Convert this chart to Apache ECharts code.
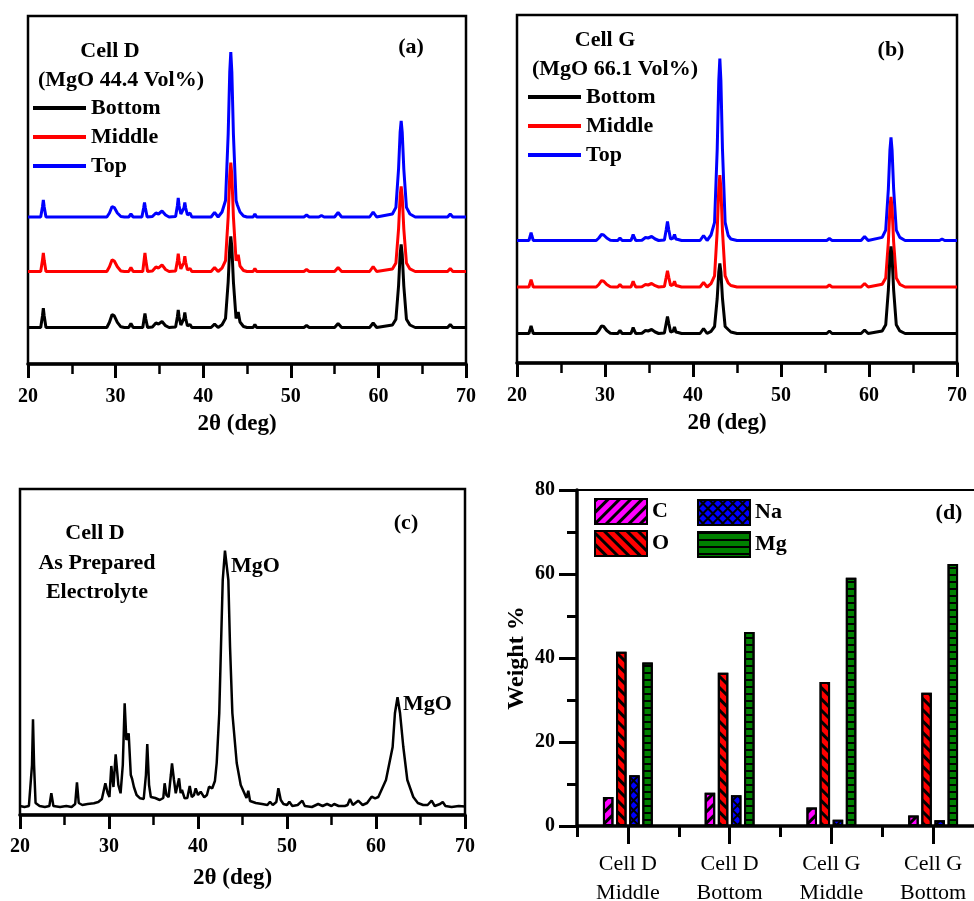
<!DOCTYPE html>
<html><head><meta charset="utf-8">
<script src="https://cdn.jsdelivr.net/npm/echarts@6/dist/echarts.min.js"></script>
<style>html,body{margin:0;padding:0;background:#fff}#c{width:974px;height:901px}</style>
</head><body><div id="c"></div>
<script>
// ---------- data (intensities in arbitrary units) ----------
const X_TICKS = [20, 30, 40, 50, 60, 70];
// Panel (a) Cell D
const A_TOP = [[20,147],[21.45,147],[21.65,157],[21.75,164],[21.85,157],[22.05,147],[25.9,147],[26.1,148.5],[26.3,147],[29.0,147],[29.3,151],[29.6,157.5],[29.85,156.5],[30.2,151],[30.6,147.5],[31.0,147],[31.5,147],[31.75,150],[32.0,147],[33.0,147],[33.2,156],[33.3,161.6],[33.4,156],[33.6,147],[34.2,147.5],[34.6,151],[34.9,150],[35.3,153],[35.7,149],[36.1,147],[36.85,147.5],[37.05,158],[37.15,166],[37.25,158],[37.45,150],[37.65,151],[37.8,156],[37.9,161.6],[38.0,156],[38.2,149],[38.5,151],[38.7,147],[40.9,147],[41.3,151.6],[41.7,147],[42.15,152],[42.55,163.5],[42.85,229.5],[43.03,292],[43.15,312],[43.27,292],[43.45,229.5],[43.75,163.5],[43.9,159],[44.0,161],[44.2,152],[44.6,148],[45.0,147],[45.7,147],[45.9,150],[46.1,147],[51.5,147],[51.8,149],[52.1,147],[53.2,147],[53.5,148.5],[53.8,147],[55.0,147],[55.4,151.5],[55.8,147],[59.0,147],[59.4,152],[59.8,147],[61.6,150],[62.0,156.6],[62.3,195],[62.48,231.5],[62.6,243],[62.72,231.5],[62.9,195],[63.2,156.6],[63.6,150],[64.2,147],[67.9,147],[68.2,150],[68.5,147],[70,147]];
const A_MID = [[20,92.5],[21.45,92.5],[21.65,103.7],[21.75,111.2],[21.85,103.7],[22.05,92.5],[25.9,92.5],[26.1,94],[26.3,92.5],[29.0,92.5],[29.3,97.2],[29.6,104.2],[29.85,103],[30.2,97.2],[30.6,93],[31.0,92.5],[31.5,92.5],[31.75,96.5],[32.0,92.5],[33.1,92.5],[33.25,103.7],[33.35,111.2],[33.45,103.7],[33.65,92.5],[34.2,93],[34.6,97],[34.9,96],[35.3,99.2],[35.7,94.5],[36.1,92.5],[36.85,93],[37.05,103],[37.15,110.2],[37.25,103],[37.45,95],[37.65,97],[37.8,101.7],[37.9,107.9],[38.0,101.7],[38.2,94],[38.5,95.5],[38.7,92.5],[40.9,92.5],[41.3,96.5],[41.7,92.5],[42.15,95.8],[42.55,103.4],[42.85,147],[43.03,188.4],[43.15,201.5],[43.27,188.4],[43.45,147],[43.75,103.4],[43.9,104],[44.0,109.2],[44.2,98],[44.6,93.5],[45.0,92.5],[45.7,92.5],[45.9,95.5],[46.1,92.5],[51.5,92.5],[51.8,94.5],[52.1,92.5],[55.0,92.5],[55.4,96.5],[55.8,92.5],[59.0,92.5],[59.4,97.5],[59.8,92.5],[61.6,95.1],[62.0,101],[62.3,135],[62.48,167.3],[62.6,177.5],[62.72,167.3],[62.9,135],[63.2,101],[63.6,95.1],[64.2,92.5],[67.9,92.5],[68.2,95.5],[68.5,92.5],[70,92.5]];
const A_BOT = [[20,36.5],[21.45,36.5],[21.65,48],[21.75,55.8],[21.85,48],[22.05,36.5],[25.9,36.5],[26.1,38],[26.3,36.5],[29.0,36.5],[29.3,41.7],[29.6,49.5],[29.85,48.2],[30.2,41.7],[30.6,37.2],[31.0,36.5],[31.5,36.5],[31.75,40.5],[32.0,36.5],[33.1,36.5],[33.25,45],[33.35,50.5],[33.45,45],[33.65,36.5],[34.2,37],[34.6,41],[34.9,40],[35.3,42.5],[35.7,38.3],[36.1,36.5],[36.85,37],[37.05,47],[37.15,54.1],[37.25,47],[37.45,39],[37.65,41],[37.8,45.5],[37.9,51.5],[38.0,45.5],[38.2,38],[38.5,39.5],[38.7,36.5],[40.9,36.5],[41.3,39.8],[41.7,36.5],[42.15,39.2],[42.55,45.6],[42.85,82],[43.03,116.5],[43.15,127.5],[43.27,116.5],[43.45,82],[43.75,45.6],[43.9,47],[44.0,52.1],[44.2,42],[44.6,37.5],[45.0,36.5],[45.7,36.5],[45.9,39.5],[46.1,36.5],[51.5,36.5],[51.8,38.5],[52.1,36.5],[55.0,36.5],[55.4,40.5],[55.8,36.5],[59.0,36.5],[59.4,41],[59.8,36.5],[61.6,39],[62.0,44.8],[62.3,78],[62.48,109.5],[62.6,119.5],[62.72,109.5],[62.9,78],[63.2,44.8],[63.6,39],[64.2,36.5],[67.9,36.5],[68.2,39.5],[68.5,36.5],[70,36.5]];
// Panel (b) Cell G
const B_TOP = [[20,122.5],[21.35,122.5],[21.5,127],[21.6,130.5],[21.7,127],[21.85,122.5],[26.8,122.5],[27.0,123.5],[27.2,122.5],[29.0,122.5],[29.3,125],[29.6,128.5],[29.85,128],[30.2,125],[30.6,122.8],[31.0,122.5],[31.45,122.5],[31.7,125],[31.95,122.5],[32.95,122.5],[33.1,126],[33.2,128.5],[33.3,126],[33.5,122.5],[34.2,122.8],[34.6,125.5],[34.9,125],[35.3,126.5],[35.7,124],[36.1,122.5],[36.75,123],[36.95,133],[37.1,141.5],[37.25,133],[37.45,124],[37.75,125],[37.9,128.5],[38.05,124],[38.3,123.5],[38.5,124.5],[38.7,122.5],[40.8,122.5],[41.2,127.5],[41.6,122.5],[42.05,128],[42.45,140.7],[42.75,213.5],[42.93,282.5],[43.05,304.5],[43.17,282.5],[43.35,213.5],[43.65,140.7],[44.0,127.5],[44.3,124],[45.0,122.5],[45.6,122.5],[45.8,124.5],[46.0,122.5],[55.2,122.5],[55.5,124.5],[55.8,122.5],[59.1,122.5],[59.5,126.5],[59.9,122.5],[61.5,125.6],[61.9,132.8],[62.2,174],[62.38,213.1],[62.5,225.5],[62.62,213.1],[62.8,174],[63.1,132.8],[63.5,125.6],[64.1,122.5],[68.0,122.5],[68.3,124],[68.6,122.5],[70,122.5]];
const B_MID = [[20,76],[21.35,76],[21.5,80.4],[21.6,83.3],[21.7,80.4],[21.85,76],[29.0,76],[29.3,78.5],[29.6,82.3],[29.85,81.8],[30.2,78.5],[30.6,76.3],[31.0,76],[31.45,76],[31.7,78.5],[31.95,76],[32.95,76],[33.1,79.4],[33.2,81.7],[33.3,79.4],[33.5,76],[34.2,76.3],[34.6,78.5],[34.9,78],[35.3,79.5],[35.7,77.3],[36.1,76],[36.75,76.5],[36.95,85.5],[37.1,92.3],[37.25,85.5],[37.45,77.5],[37.75,78.5],[37.9,81.7],[38.05,77.5],[38.3,77],[38.5,77.5],[38.7,76],[40.8,76],[41.2,80.6],[41.6,76],[42.05,79.4],[42.45,87.2],[42.75,132],[42.93,174.6],[43.05,188],[43.17,174.6],[43.35,132],[43.65,87.2],[44.0,80],[44.3,77.5],[45.0,76],[55.2,76],[55.5,78],[55.8,76],[59.1,76],[59.5,79.5],[59.9,76],[61.5,78.7],[61.9,85],[62.2,121],[62.38,155.2],[62.5,166],[62.62,155.2],[62.8,121],[63.1,85],[63.5,78.7],[64.1,76],[70,76]];
const B_BOT = [[20,29.5],[21.35,29.5],[21.5,34],[21.6,37.1],[21.7,34],[21.85,29.5],[29.0,29.5],[29.3,32.5],[29.6,37.1],[29.85,36.5],[30.2,32.5],[30.6,29.8],[31.0,29.5],[31.45,29.5],[31.7,32.5],[31.95,29.5],[32.95,29.5],[33.1,33],[33.2,35.5],[33.3,33],[33.5,29.5],[34.2,29.8],[34.6,32.5],[34.9,32],[35.3,33.5],[35.7,31],[36.1,29.5],[36.75,30],[36.95,39.5],[37.1,46.5],[37.25,39.5],[37.45,31],[37.75,32],[37.9,36.1],[38.05,31],[38.3,30.5],[38.5,31],[38.7,29.5],[40.8,29.5],[41.2,34.5],[41.6,29.5],[42.05,31.6],[42.45,36.5],[42.75,64.5],[42.93,91.1],[43.05,99.5],[43.17,91.1],[43.35,64.5],[43.65,36.5],[44.0,33.5],[44.3,31],[45.0,29.5],[55.2,29.5],[55.5,32],[55.8,29.5],[59.1,29.5],[59.5,33],[59.9,29.5],[61.5,32.1],[61.9,38.2],[62.2,73],[62.38,106.1],[62.5,116.5],[62.62,106.1],[62.8,73],[63.1,38.2],[63.5,32.1],[64.1,29.5],[70,29.5]];
// Panel (c) Cell D as prepared electrolyte
const C_PREP = [[20,9],[20.5,8],[21.0,9],[21.2,10],[21.35,50],[21.46,95.7],[21.58,50],[21.75,12],[22.2,9],[22.8,8],[23.3,9],[23.52,21.7],[23.75,9],[24.5,8],[25.2,9],[25.8,8],[26.2,11],[26.4,32.7],[26.6,12],[27.0,10],[27.6,11],[28.3,11.7],[28.8,13],[29.2,16],[29.59,31.7],[29.85,22],[30.05,18],[30.26,49],[30.5,28],[30.75,60.7],[31.05,30],[31.3,21.7],[31.55,50],[31.76,111.7],[31.95,75],[32.21,81.7],[32.45,40],[32.6,36],[32.8,28],[33.1,20],[33.5,16.7],[33.9,16],[34.15,40],[34.3,71],[34.5,30],[34.7,18],[35.2,17],[35.7,15],[36.1,17],[36.25,31.7],[36.45,20],[36.7,18],[36.95,40],[37.08,51.7],[37.3,35],[37.5,21.7],[37.87,36.7],[38.05,22],[38.2,25],[38.5,16.7],[38.8,17],[39.07,29],[39.3,18],[39.55,20],[39.74,26.7],[40.0,20],[40.3,23.3],[40.7,17.7],[41.0,20],[41.24,28.3],[41.6,26.7],[41.9,34],[42.1,52],[42.39,102],[42.58,168],[42.78,235],[43.03,264.3],[43.41,235],[43.6,168],[43.86,102],[44.35,52],[44.8,30],[45.2,22],[45.45,17],[45.65,24.3],[45.85,14],[46.5,12],[47.2,11],[47.8,10],[48.09,13.3],[48.4,10],[48.8,13],[49.03,26.7],[49.3,15],[49.6,11],[50.0,10],[50.26,13.3],[50.6,9],[51.2,10],[51.72,14.3],[52.0,9],[52.8,8],[53.5,11],[54.0,9],[54.5,11],[55.0,9],[55.3,11],[55.8,9],[56.5,9],[56.8,10],[57.08,16],[57.4,10],[58.0,14.3],[58.5,10],[59.0,12],[59.51,18.3],[59.9,16.7],[60.26,18],[61.12,35],[61.87,68],[62.13,102],[62.42,117.7],[62.70,102],[63.07,68],[63.52,35],[64.19,18],[64.7,12],[65.3,10],[65.8,10],[66.25,14.3],[66.6,9],[67.2,11],[67.5,13],[67.8,9],[68.5,8],[69.3,9],[70,8.5]];
// Panel (d) EDS weight %
const D_CATS = ['Cell D\nMiddle', 'Cell D\nBottom', 'Cell G\nMiddle', 'Cell G\nBottom'];
const D_C  = [6.9, 7.9, 4.4, 2.5];
const D_O  = [41.5, 36.5, 34.3, 31.7];
const D_NA = [12.1, 7.3, 1.5, 1.35];
const D_MG = [38.9, 46.2, 59.1, 62.4];
const D_Y_TICKS = [0, 20, 40, 60, 80];

// ---------- styling / layout ----------
const FONT = '"Liberation Serif", "Times New Roman", serif';
const BOLD = {fontFamily: FONT, fontWeight: 'bold', color: '#000'};

function xrdX(gi, nameGap, margin) {
  return {
    type: 'value', gridIndex: gi, min: X_TICKS[0], max: X_TICKS[X_TICKS.length - 1], interval: X_TICKS[1] - X_TICKS[0],
    name: '2θ (deg)', nameLocation: 'middle', nameGap: nameGap,
    nameTextStyle: Object.assign({fontSize: 23, padding: [0, 20, 0, 0]}, BOLD),
    axisLine: {show: true, onZero: false, lineStyle: {color: '#000', width: 3.5}},
    axisTick: {show: true, length: 14, lineStyle: {color: '#000', width: 3}},
    minorTick: {show: true, splitNumber: 2, length: 10, lineStyle: {color: '#000', width: 2.5}},
    splitLine: {show: false}, minorSplitLine: {show: false},
    axisLabel: Object.assign({fontSize: 20, margin: margin}, BOLD)
  };
}
function xrdY(gi, max) {
  return {type: 'value', gridIndex: gi, min: 0, max: max, show: false, splitLine: {show: false}};
}
function line(name, data, color, gi, w) {
  return {type: 'line', name: name, data: data, xAxisIndex: gi, yAxisIndex: gi, symbol: 'none',
    lineStyle: {color: color, width: w}, itemStyle: {color: color}, animation: false, z: 3};
}
function bar(name, data, color, decal) {
  return {type: 'bar', name: name, data: data, xAxisIndex: 3, yAxisIndex: 3, barWidth: 10.5, barGap: '25%',
    itemStyle: {color: color, borderColor: '#000', borderWidth: 2, decal: decal}, animation: false};
}
function txt(t, x, y, align) {
  return {type: 'text', x: x, y: y, z: 100, style: {text: t, fill: '#000', font: 'bold 22px ' + FONT,
    align: align || 'center', verticalAlign: 'middle'}};
}
const gridBox = {show: true, borderColor: '#000', borderWidth: 2.5, backgroundColor: 'transparent', outerBoundsMode: 'none', containLabel: false};
const lineLegend = (left, top) => ({
  data: ['Bottom', 'Middle', 'Top'], left: left, top: top, orient: 'vertical', padding: 0,
  icon: 'rect', itemWidth: 53, itemHeight: 4, itemGap: 7, selectedMode: false,
  textStyle: Object.assign({fontSize: 22, lineHeight: 22}, BOLD)
});
const barLegend = (names, left, top) => ({
  data: names, left: left, top: top, orient: 'vertical', padding: 0, icon: 'rect',
  itemWidth: 52, itemHeight: 25, itemGap: 5, selectedMode: false,
  itemStyle: {borderColor: '#000', borderWidth: 2},
  textStyle: Object.assign({fontSize: 22}, BOLD)
});

const stripes = (rot) => ({symbol: 'rect', color: '#000', dashArrayX: [1, 0], dashArrayY: [2.5, 4.5], rotation: rot, symbolSize: 1});

const option = {
  backgroundColor: '#fff',
  animation: false,
  grid: [
    Object.assign({left: 28, top: 16, width: 438, height: 348}, gridBox),
    Object.assign({left: 517, top: 15, width: 440, height: 348}, gridBox),
    Object.assign({left: 20, top: 489, width: 445, height: 326}, gridBox),
    Object.assign({left: 577, top: 490, width: 407, height: 336}, gridBox, {borderWidth: 2})
  ],
  xAxis: [
    xrdX(0, 49, 23), xrdX(1, 49, 23), xrdX(2, 52, 22),
    {type: 'category', gridIndex: 3, data: D_CATS,
     axisLine: {show: true, lineStyle: {color: '#000', width: 3.5}},
     axisTick: {show: true, alignWithLabel: true, length: 18, lineStyle: {color: '#000', width: 3}},
     axisLabel: {fontFamily: FONT, fontSize: 22, color: '#000', margin: 24, lineHeight: 29, interval: 0},
     splitLine: {show: false}},
    {type: 'category', gridIndex: 3, data: D_CATS, position: 'bottom',
     axisLine: {show: false}, axisTick: {show: true, length: 11, lineStyle: {color: '#000', width: 3}},
     axisLabel: {show: false}, splitLine: {show: false}}
  ],
  yAxis: [
    xrdY(0, 348), xrdY(1, 348), xrdY(2, 326),
    {type: 'value', gridIndex: 3, min: D_Y_TICKS[0], max: D_Y_TICKS[D_Y_TICKS.length - 1], interval: D_Y_TICKS[1] - D_Y_TICKS[0],
     name: 'Weight %', nameLocation: 'middle', nameGap: 48,
     nameTextStyle: Object.assign({fontSize: 24}, BOLD),
     axisLine: {show: true, lineStyle: {color: '#000', width: 3.5}},
     axisTick: {show: true, length: 18, lineStyle: {color: '#000', width: 3}},
     minorTick: {show: true, splitNumber: 2, length: 10, lineStyle: {color: '#000', width: 3}},
     splitLine: {show: false},
     axisLabel: Object.assign({fontSize: 20, margin: 22}, BOLD)}
  ],
  legend: [lineLegend(33, 97), lineLegend(528, 86), barLegend(['C', 'O'], 594, 498), barLegend(['Na', 'Mg'], 697, 499)],
  series: [
    line('Top', A_TOP, '#0000ff', 0, 3), line('Middle', A_MID, '#ff0000', 0, 3), line('Bottom', A_BOT, '#000000', 0, 3),
    line('Top', B_TOP, '#0000ff', 1, 3), line('Middle', B_MID, '#ff0000', 1, 3), line('Bottom', B_BOT, '#000000', 1, 3),
    line('As Prepared', C_PREP, '#000000', 2, 2.5),
    bar('C', D_C, '#ff00ff', stripes(-Math.PI / 4)),
    bar('O', D_O, '#ff0000', stripes(Math.PI / 4)),
    bar('Na', D_NA, '#000000', {symbol: 'rect', color: '#0000ff', dashArrayX: [4.5, 1.8], dashArrayY: [4.5, 1.8], rotation: Math.PI / 4, symbolSize: 1}),
    bar('Mg', D_MG, '#008000', {symbol: 'rect', color: '#000', dashArrayX: [1, 0], dashArrayY: [2, 4.5], rotation: 0, symbolSize: 1})
  ],
  graphic: [
    txt('Cell D', 110, 51), txt('(MgO 44.4 Vol%)', 121, 80), txt('(a)', 411, 47),
    txt('Cell G', 605, 40), txt('(MgO 66.1 Vol%)', 615, 69), txt('(b)', 891, 50),
    txt('Cell D', 95, 533), txt('As Prepared', 97, 563), txt('Electrolyte', 97, 592), txt('(c)', 406, 523),
    txt('MgO', 231, 566, 'left'), txt('MgO', 403, 704, 'left'),
    txt('(d)', 949, 513)
  ]
};
const chart = echarts.init(document.getElementById('c'), null, {renderer: 'canvas'});
chart.setOption(option);
</script></body></html>
